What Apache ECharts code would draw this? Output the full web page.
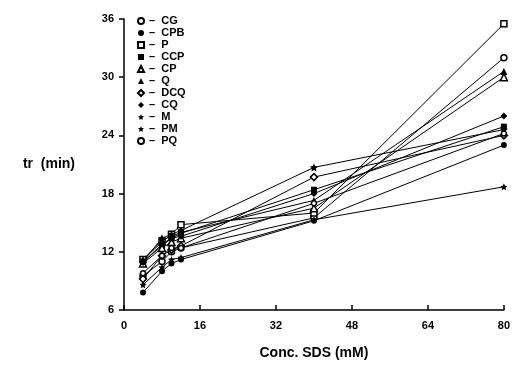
<!DOCTYPE html>
<html>
<head>
<meta charset="utf-8">
<script src="https://cdn.jsdelivr.net/npm/echarts@6/dist/echarts.min.js"></script>
<style>
  html, body { margin: 0; padding: 0; background: #fff; }
  #chart { width: 513px; height: 370px; }
</style>
</head>
<body>
<div id="chart"></div>
<script>
// SDS concentration (mM) and retention times (min) per compound
const conc = [4, 8, 10, 12, 40, 80];
const names = ["CG", "CPB", "P", "CCP", "CP", "Q", "DCQ", "CQ", "M", "PM", "PQ"];
const CG  = [9.5, 11.0, 12.0, 12.4, 15.5, 32.0];
const CPB = [7.8, 10.0, 10.8, 11.2, 15.2, 23.0];
const P   = [11.2, 13.0, 13.8, 14.8, 16.0, 35.5];
const CCP = [11.0, 12.6, 13.4, 13.9, 18.4, 24.9];
const CP  = [10.8, 12.4, 13.0, 13.4, 16.5, 30.0];
const Q   = [11.2, 13.2, 13.6, 14.0, 17.3, 30.6];
const DCQ = [9.2, 11.6, 12.2, 12.6, 19.7, 24.0];
const CQ  = [10.9, 12.8, 13.4, 13.6, 18.0, 26.0];
const M   = [11.0, 13.4, 13.8, 14.2, 20.7, 24.6];
const PM  = [8.6, 10.4, 11.2, 11.4, 15.3, 18.7];
const PQ  = [9.8, 11.6, 12.4, 12.4, 17.0, 24.2];
const xTicks = [0, 16, 32, 48, 64, 80];
const yTicks = [6, 12, 18, 24, 30, 36];

const values = { CG, CPB, P, CCP, CP, Q, DCQ, CQ, M, PM, PQ };

const star = "path://M0,-10L2.9,-4L9.5,-3.1L4.7,1.5L5.9,8.1L0,5L-5.9,8.1L-4.7,1.5L-9.5,-3.1L-2.9,-4Z";
// marker shape, filled or open, size
const marks = {
  CG:  ["circle", false, 6],
  CPB: ["circle", true, 6],
  P:   ["rect", false, 6],
  CCP: ["rect", true, 6],
  CP:  ["triangle", false, 7],
  Q:   ["triangle", true, 7],
  DCQ: ["diamond", false, 7],
  CQ:  ["diamond", true, 7],
  M:   [star, true, 8],
  PM:  [star, true, 7],
  PQ:  ["circle", false, 5]
};

const font = "'Liberation Sans', Arial, sans-serif";

const chart = echarts.init(document.getElementById("chart"));

const series = names.map(n => ({
  name: n,
  type: "line",
  data: conc.map((c, i) => [c, values[n][i]]),
  symbol: marks[n][0],
  symbolSize: marks[n][2],
  showAllSymbol: true,
  lineStyle: { color: "#000", width: 1 },
  itemStyle: {
    color: marks[n][1] ? "#000" : "#fff",
    borderColor: "#000",
    borderWidth: marks[n][1] ? 0 : 1.5
  },
  emphasis: { disabled: true },
  animation: false
}));

chart.setOption({
  backgroundColor: "#fff",
  animation: false,
  grid: { left: 124, right: 8, top: 19, bottom: 60 },
  legend: {
    orient: "vertical",
    left: 132,
    top: 10,
    itemWidth: 6,
    itemHeight: 6,
    itemGap: 0,
    selectedMode: false,
    formatter: n => "–  " + n,
    textStyle: {
      fontFamily: font, fontWeight: "bold", fontSize: 11, color: "#000",
      lineHeight: 12, height: 12, padding: 0
    },
    data: names.map(n => ({ name: n, icon: marks[n][0] }))
  },
  xAxis: {
    type: "value",
    min: 0,
    max: 80,
    interval: 16,
    name: "Conc. SDS (mM)",
    nameLocation: "middle",
    nameGap: 36,
    nameTextStyle: { fontFamily: font, fontWeight: "bold", fontSize: 14, color: "#000" },
    axisLine: { show: true, lineStyle: { color: "#000", width: 1.5 } },
    axisTick: { show: true, inside: true, length: 5, lineStyle: { color: "#000", width: 1.5 } },
    axisLabel: {
      fontFamily: font, fontWeight: "bold", fontSize: 11, color: "#000", margin: 10,
      formatter: v => xTicks.includes(v) ? String(v) : ""
    },
    splitLine: { show: false }
  },
  yAxis: {
    type: "value",
    min: 6,
    max: 36,
    interval: 6,
    name: "tr  (min)",
    nameLocation: "middle",
    nameRotate: 0,
    nameGap: 49,
    nameTextStyle: { fontFamily: font, fontWeight: "bold", fontSize: 14, color: "#000" },
    axisLine: { show: true, lineStyle: { color: "#000", width: 1.5 } },
    axisTick: { show: true, inside: false, length: 5, lineStyle: { color: "#000", width: 1.5 } },
    axisLabel: {
      fontFamily: font, fontWeight: "bold", fontSize: 11, color: "#000", margin: 10,
      formatter: v => yTicks.includes(v) ? String(v) : ""
    },
    splitLine: { show: false }
  },
  series: series
});
</script>
</body>
</html>
